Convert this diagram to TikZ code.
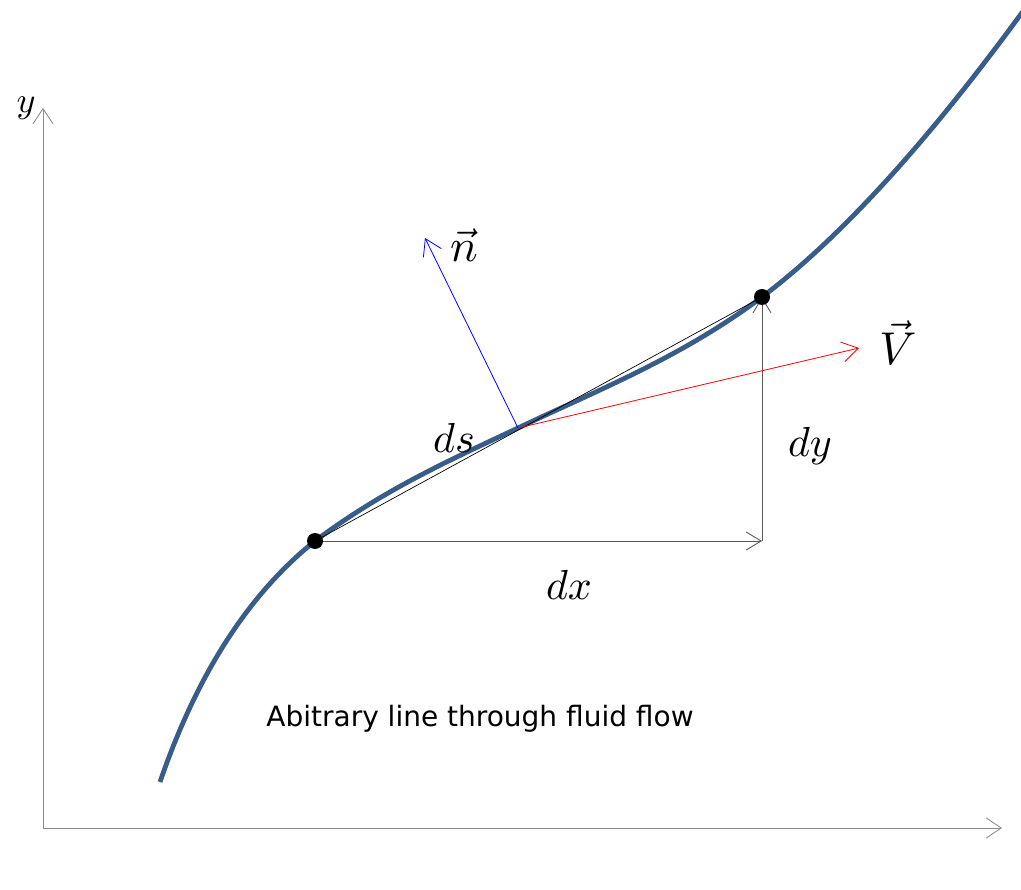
\documentclass[tikz,border=0pt]{standalone}
\usepackage{fontspec}
\setsansfont{DejaVu Sans}
\usepackage{amsmath}
\usepackage{graphicx}
\usetikzlibrary{arrows.meta,calc}

\definecolor{curveblue}{HTML}{385D8A}

\begin{document}
\begin{tikzpicture}[
            x=1pt, y=-1pt,
            axis/.style={draw=black!45, line width=0.9pt,
            -{Straight Barb[length=15pt, width=20pt, line width=0.9pt]}},
            leg/.style={draw=black!65, line width=0.9pt,
            -{Straight Barb[length=15pt, width=18pt, line width=0.9pt]}},
            vect/.style={line width=0.8pt,
            -{Straight Barb[length=16pt, width=20pt, line width=0.8pt]}},
            chord/.style={draw=black, line width=0.7pt},
            flow/.style={draw=curveblue, line width=4.8pt},
            pt/.style={circle, fill=black, inner sep=0pt, minimum size=16pt},
            lbl/.style={inner sep=0pt, anchor=base},
            caption/.style={font=\sffamily\fontsize{28}{28}\selectfont, anchor=base}
        ]
            \clip (0,0) rectangle (1021,890);
            \useasboundingbox (0,0) rectangle (1021,890);

% axes
            \coordinate (O)    at (43,828);
            \coordinate (xend) at (1002,828);
            \coordinate (yend) at (43,108);
            \draw[axis] (O) -- (xend);
            \draw[axis] (O) -- (yend);
            \node[lbl] (ylab) at (26,113) {\scalebox{3.6}{$y$}};

% end points, corner and foot of the vectors
            \coordinate (A)    at (315,541);
            \coordinate (B)    at (762,297);
            \coordinate (C)    at (762,541);
            \coordinate (P)    at (518,428);
            \coordinate (ntip) at (425,238);
            \coordinate (Vtip) at (859,348);

% the line through the flow
            \draw[flow] (160,782) .. controls (195,680) and (245,597) .. (A)
                .. controls (385,489) and (448,461) .. (P)
                .. controls (598,390) and (682,357) .. (B)
                .. controls (847,233) and (936,130) .. (1021,14) -- (1040,-12);

            \draw[chord] (A) -- (B);
            \draw[leg] (A) -- (C);
            \draw[leg] (C) -- (B);
            \draw[vect, blue] (P) -- (ntip);
            \draw[vect, red] (P) -- (Vtip);

            \node[pt] (Adot) at (A) {};
            \node[pt] (Bdot) at (B) {};

% labels
            \node[lbl] (nlab) at (464,262) {\scalebox{4.6}{$\vec{n}$}};
            \node[lbl] (Vlab) at (898,365) {\scalebox{4.6}{$\vec{V}$}};
            \node[lbl] (dslab) at (454,453) {\scalebox{4.2}{$ds$}};
            \node[lbl] (dylab) at (810,457) {\scalebox{4.2}{$dy$}};
            \node[lbl] (dxlab) at (569,600) {\scalebox{4.2}{$dx$}};
            \node[caption] (cap) at (480,726) {Abitrary line through fluid flow};
        \end{tikzpicture}
\end{document}
